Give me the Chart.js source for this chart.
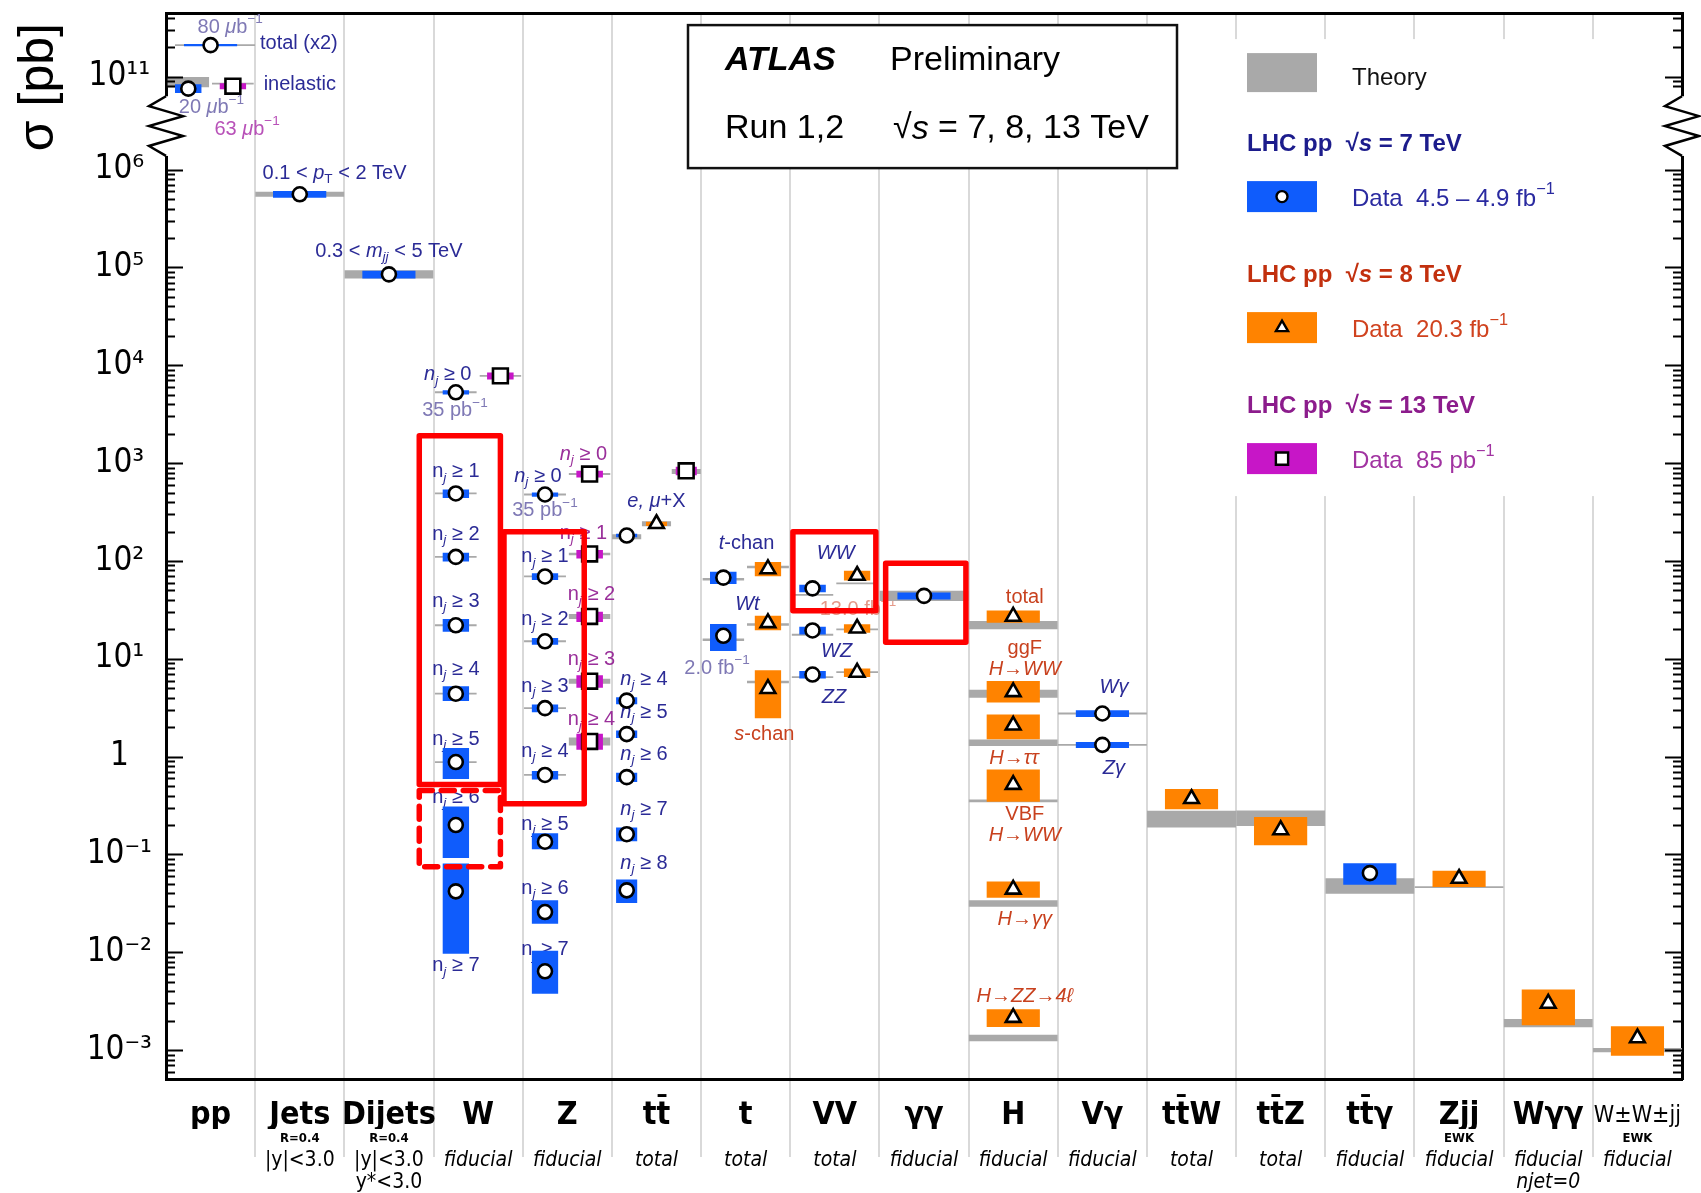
<!DOCTYPE html>
<html>
<head>
<meta charset="utf-8">
<title>ATLAS cross-section summary</title>
<script src="https://cdn.jsdelivr.net/npm/chart.js@4.4.1/dist/chart.umd.min.js"></script>
<style>
  html, body { margin: 0; padding: 0; background: #fff; }
  canvas { display: block; }
</style>
</head>
<body>
<canvas id="xsec" width="1701" height="1193"></canvas>
<script>
// Columns along x, and the small lines printed under them
const categories = ['pp', 'Jets', 'Dijets', 'W', 'Z', 'tt\u0304', 't', 'VV', '\u03b3\u03b3', 'H', 'V\u03b3',
  'tt\u0304W', 'tt\u0304Z', 'tt\u0304\u03b3', 'Zjj', 'W\u03b3\u03b3', 'W\u00b1W\u00b1jj'];
const subLabels = ['', 'R=0.4', 'R=0.4', '', '', '', '', '', '', '', '', '', '', '', 'EWK', '', 'EWK'];
const notes = ['', '|y|<3.0', ['|y|<3.0', 'y*<3.0'], 'fiducial', 'fiducial', 'total', 'total', 'total',
  'fiducial', 'fiducial', 'fiducial', 'total', 'total', 'fiducial', 'fiducial', ['fiducial', 'njet=0'], 'fiducial'];

// y axis: decades that get a label
const yTickDecades = [-3, -2, -1, 0, 1, 2, 3, 4, 5, 6, 11];
const yTickLabels = ['10\u207b\u00b3', '10\u207b\u00b2', '10\u207b\u00b9', '1', '10\u00b9', '10\u00b2', '10\u00b3',
  '10\u2074', '10\u2075', '10\u2076', '10\u00b9\u00b9'];

// measurements: [column, name, sigma (pb), data rel. up, data rel. down, theory (pb), theory rel. unc.]
const data7 = [
  [0, 'total (x2)', 2.1e11, 0.012, 0.012, 2.1e11, 0.01],
  [0, 'inelastic', 7.55e10, 0.11, 0.10, 8.8e10, 0.13],
  [1, 'jets', 5.6e5, 0.08, 0.08, 5.6e5, 0.06],
  [2, 'dijets', 8.5e4, 0.09, 0.09, 8.5e4, 0.10],
  [3, 'W nj>=0', 5.3e3, 0.05, 0.05, 5.3e3, 0.02],
  [3, 'W nj>=1', 490, 0.10, 0.10, 490, 0.02],
  [3, 'W nj>=2', 110, 0.10, 0.10, 110, 0.02],
  [3, 'W nj>=3', 22, 0.16, 0.14, 22, 0.02],
  [3, 'W nj>=4', 4.4, 0.19, 0.16, 4.4, 0.02],
  [3, 'W nj>=5', 0.88, 0.39, 0.33, 0.88, 0.02],
  [3, 'W nj>=6', 0.20, 0.55, 0.54, null, 0],
  [3, 'W nj>=7', 0.042, 0.93, 0.77, null, 0],
  [4, 'Z nj>=0', 478, 0.05, 0.05, 478, 0.02],
  [4, 'Z nj>=1', 69.5, 0.08, 0.08, 69.5, 0.02],
  [4, 'Z nj>=2', 15.1, 0.08, 0.08, 15.1, 0.02],
  [4, 'Z nj>=3', 3.13, 0.09, 0.09, 3.13, 0.02],
  [4, 'Z nj>=4', 0.65, 0.10, 0.10, 0.65, 0.02],
  [4, 'Z nj>=5', 0.135, 0.22, 0.16, null, 0],
  [4, 'Z nj>=6', 0.0258, 0.32, 0.24, null, 0],
  [4, 'Z nj>=7', 0.0064, 0.62, 0.41, null, 0],
  [5, 'tt total', 182, 0.04, 0.04, 177, 0.06],
  [5, 'tt nj>=4', 3.74, 0.08, 0.08, null, 0],
  [5, 'tt nj>=5', 1.70, 0.09, 0.09, null, 0],
  [5, 'tt nj>=6', 0.617, 0.11, 0.11, null, 0],
  [5, 'tt nj>=7', 0.161, 0.17, 0.15, null, 0],
  [5, 'tt nj>=8', 0.043, 0.29, 0.26, null, 0],
  [6, 't-chan', 67.6, 0.15, 0.14, 65, 0.03],
  [6, 'Wt', 17.2, 0.32, 0.30, 15.7, 0.03],
  [7, 'WW', 52.5, 0.09, 0.09, 45, 0.02],
  [7, 'WZ', 19.5, 0.09, 0.09, 17.6, 0.02],
  [7, 'ZZ', 6.9, 0.09, 0.09, 6.5, 0.02],
  [8, 'gamgam', 44, 0.08, 0.08, 44, 0.13],
  [10, 'Wgam', 2.76, 0.08, 0.08, 2.76, 0.015],
  [10, 'Zgam', 1.32, 0.07, 0.07, 1.32, 0.015],
  [13, 'ttgam', 0.0645, 0.26, 0.24, 0.0475, 0.20]
];
const data8 = [
  [5, 'tt total', 240, 0.05, 0.05, 240, 0.06],
  [6, 't-chan', 82.9, 0.18, 0.16, 87, 0.03],
  [6, 'Wt', 23.3, 0.18, 0.16, 22.4, 0.03],
  [6, 's-chan', 4.95, 0.54, 0.50, 5.8, 0.03],
  [7, 'WW', 71, 0.12, 0.11, 59, 0.02],
  [7, 'WZ', 20.5, 0.10, 0.10, 20, 0.02],
  [7, 'ZZ', 7.25, 0.10, 0.10, 7.3, 0.02],
  [9, 'H total', 27.1, 0.15, 0.14, 22.1, 0.10],
  [9, 'ggF H->WW', 4.59, 0.29, 0.22, 4.4, 0.10],
  [9, 'H->tautau', 2.09, 0.29, 0.28, 1.39, 0.08],
  [9, 'VBF H->WW', 0.517, 0.43, 0.33, 0.353, 0.03],
  [9, 'H->gamgam', 0.044, 0.20, 0.18, 0.0316, 0.08],
  [9, 'H->ZZ->4l', 0.00215, 0.22, 0.20, 0.00133, 0.08],
  [11, 'ttW', 0.371, 0.26, 0.22, 0.23, 0.22],
  [12, 'ttZ', 0.178, 0.36, 0.30, 0.235, 0.20],
  [14, 'Zjj EWK', 0.0568, 0.20, 0.18, 0.0463, 0.02],
  [15, 'Wgamgam', 0.0030, 0.39, 0.40, 0.00189, 0.10],
  [16, 'WWjj EWK', 0.00133, 0.32, 0.34, 0.0010, 0.05]
];
const data13 = [
  [0, 'inelastic', 8.0e10, 0.07, 0.07, 8.5e10, 0.02],
  [3, 'W nj>=0', 7.8e3, 0.08, 0.08, 7.8e3, 0.02],
  [4, 'Z nj>=0', 774, 0.08, 0.08, 774, 0.02],
  [4, 'Z nj>=1', 118, 0.10, 0.10, 118, 0.03],
  [4, 'Z nj>=2', 27.1, 0.12, 0.12, 27.1, 0.06],
  [4, 'Z nj>=3', 5.9, 0.15, 0.14, 5.9, 0.06],
  [4, 'Z nj>=4', 1.43, 0.20, 0.18, 1.43, 0.10],
  [5, 'tt total', 835, 0.10, 0.10, 820, 0.06]
];

// text written next to the measurements: [text, x (column units), sigma (pb), colour]
const annotations = [
  ['80 [\u03bc]b^{\u22121}', 0.72, 3.2e11, 'lumi'],
  ['total (x2)', 1.49, 2.2e11, 'navy'],
  ['inelastic', 1.50, 8.4e10, 'navy'],
  ['20 [\u03bc]b^{\u22121}', 0.51, 4.8e10, 'lumi'],
  ['63 [\u03bc]b^{\u22121}', 0.91, 2.9e10, 'pink'],
  ['0.1 < [p]_{T} < 2 TeV', 1.89, 9.2e5, 'navy'],
  ['0.3 < [m]_{[jj]} < 5 TeV', 2.50, 1.45e5, 'navy'],
  ['[n]_{[j]} \u2265 0', 3.16, 8.0e3, 'navy'],
  ['35 pb^{\u22121}', 3.24, 3.46e3, 'lumi'],
  ['n_{[j]} \u2265 1', 3.25, 815, 'navy'],
  ['n_{[j]} \u2265 2', 3.25, 187, 'navy'],
  ['n_{[j]} \u2265 3', 3.25, 38.7, 'navy'],
  ['n_{[j]} \u2265 4', 3.25, 7.8, 'navy'],
  ['n_{[j]} \u2265 5', 3.25, 1.5, 'navy'],
  ['n_{[j]} \u2265 6', 3.25, 0.381, 'navy'],
  ['n_{[j]} \u2265 7', 3.25, 0.00726, 'navy'],
  ['[n]_{[j]} \u2265 0', 4.17, 736, 'navy'],
  ['35 pb^{\u22121}', 4.25, 327, 'lumi'],
  ['n_{[j]} \u2265 1', 4.25, 110, 'navy'],
  ['n_{[j]} \u2265 2', 4.25, 25, 'navy'],
  ['n_{[j]} \u2265 3', 4.25, 5.2, 'navy'],
  ['n_{[j]} \u2265 4', 4.25, 1.14, 'navy'],
  ['n_{[j]} \u2265 5', 4.25, 0.202, 'navy'],
  ['n_{[j]} \u2265 6', 4.25, 0.045, 'navy'],
  ['n_{[j]} \u2265 7', 4.25, 0.0106, 'navy'],
  ['[n]_{[j]} \u2265 0', 4.68, 1220, 'purple'],
  ['n_{[j]} \u2265 1', 4.68, 191, 'purple'],
  ['n_{[j]} \u2265 2', 4.77, 45, 'purple'],
  ['n_{[j]} \u2265 3', 4.77, 9.8, 'purple'],
  ['n_{[j]} \u2265 4', 4.77, 2.37, 'purple'],
  ['[e, \u03bc]+X', 5.50, 410, 'navy'],
  ['[n]_{[j]} \u2265 4', 5.36, 6.2, 'navy'],
  ['[n]_{[j]} \u2265 5', 5.36, 2.83, 'navy'],
  ['[n]_{[j]} \u2265 6', 5.36, 1.05, 'navy'],
  ['[n]_{[j]} \u2265 7', 5.36, 0.288, 'navy'],
  ['[n]_{[j]} \u2265 8', 5.36, 0.081, 'navy'],
  ['[t]-chan', 6.51, 152, 'navy'],
  ['[Wt]', 6.52, 35.9, 'navy'],
  ['2.0 fb^{\u22121}', 6.18, 8.0, 'lumi'],
  ['[s]-chan', 6.71, 1.7, 'red'],
  ['[WW]', 7.51, 118, 'navy'],
  ['13.0 fb^{\u22121}', 7.76, 31.6, 'faded'],
  ['[WZ]', 7.52, 12, 'navy'],
  ['[ZZ]', 7.49, 4.04, 'navy'],
  ['total', 9.63, 42.8, 'red'],
  ['ggF', 9.63, 12.6, 'red'],
  ['[H\u2192WW]', 9.63, 7.8, 'red'],
  ['[H\u2192\u03c4\u03c4]', 9.51, 0.95, 'red'],
  ['VBF', 9.63, 0.254, 'red'],
  ['[H\u2192WW]', 9.63, 0.157, 'red'],
  ['[H\u2192\u03b3\u03b3]', 9.63, 0.0216, 'red'],
  ['[H\u2192ZZ\u21924\u2113]', 9.63, 0.00357, 'red'],
  ['[W\u03b3]', 10.63, 5.08, 'navy'],
  ['[Z\u03b3]', 10.63, 0.756, 'navy']
];

// red highlight frames: [x from, x to (column units), sigma top, sigma bottom (pb), dashed]
const highlights = [
  [2.84, 3.75, 1.9e3, 0.52, false],
  [2.84, 3.75, 0.45, 0.075, true],
  [3.79, 4.69, 199, 0.33, false],
  [7.03, 7.96, 199, 31, false],
  [8.07, 8.97, 95, 14.8, false]
];

// ---- styling ----
const SANS = "'Liberation Sans', Arimo, Arial, sans-serif";
const NARROW = "'Liberation Sans Narrow', 'DejaVu Sans Condensed', 'Liberation Sans', sans-serif";
const TICKF = "'DejaVu Sans Condensed', 'DejaVu Sans', sans-serif";
const TXT = { navy: '#2b2b96', lumi: '#7f79b5', purple: '#9a2f9a', pink: '#b851b8', red: '#c8411e', faded: 'rgba(205,70,40,0.55)' };
const BAND = { 7: '#0f5cfc', 8: '#ff8300', 13: '#c716c7' };
const MARK = { 7: 'circle', 8: 'triangle', 13: 'rect' };
const MARK_R = { 7: 7, 8: 8.5, 13: 10.5 };
const THEORY = '#a9a9a9';
const GRID = '#d9d9d9';

// broken log axis: decades above 10^6 are shifted so 10^11 sits just above 10^6
const GAP = 0.95;
function tyLog(lg) { return lg <= 6 ? lg : lg - 5 + GAP; }
function ty(v) { return tyLog(Math.log10(v)); }

const rows = [
  ...data7.map(r => [7, ...r]),
  ...data8.map(r => [8, ...r]),
  ...data13.map(r => [13, ...r])
];
const present = {};
rows.forEach(([e, col]) => { (present[col] = present[col] || new Set()).add(e); });

function layoutOf(e, col, name) {
  if (name === 'total (x2)') return { c: 0.5, dw: 0.3, tl: 0.1, tr: 1.0 };
  const es = [...present[col]].sort((a, b) => a - b);
  const n = es.length, i = es.indexOf(e);
  const c = (i + 0.5) / n;
  const dw = n === 1 ? 0.3 : n === 2 ? 0.15 : 0.12;
  const tw = n === 1 ? 0.5 : n === 2 ? 0.235 : 0.165;
  return { c, dw, tl: c - tw, tr: c + tw };
}

function band(x1, x2, lo, hi, color, order) {
  return {
    type: 'line', data: [{ x: x1, y: hi }, { x: x2, y: hi }],
    fill: { value: lo }, backgroundColor: color, borderColor: 'rgba(0,0,0,0)', borderWidth: 0,
    pointRadius: 0, tension: 0, order
  };
}

const datasets = [];
const markers = { 7: [], 8: [], 13: [] };
rows.forEach(([e, col, name, v, up, dn, th, thErr]) => {
  const L = layoutOf(e, col, name);
  if (th) {
    const h = Math.max(Math.log10(1 + thErr), 0.0095);
    const t = ty(th);
    datasets.push(band(col + L.tl, col + L.tr, t - h, t + h, THEORY, 4));
  }
  const t = ty(v);
  const hu = Math.max(Math.log10(1 + up), 0.012);
  const hd = Math.max(-Math.log10(1 - dn), 0.012);
  datasets.push(band(col + L.c - L.dw, col + L.c + L.dw, t - hd, t + hu, BAND[e], 3));
  markers[e].push({ x: col + L.c, y: t });
});
[7, 8, 13].forEach(e => {
  datasets.push({
    type: 'scatter', data: markers[e], pointStyle: MARK[e], pointRadius: MARK_R[e],
    pointBackgroundColor: '#fff', pointBorderColor: '#000', pointBorderWidth: 2.6, order: 1
  });
});
highlights.forEach(([x1, x2, top, bot, dashed]) => {
  const yt = ty(top), yb = ty(bot);
  datasets.push({
    type: 'line',
    data: [{ x: x1, y: yt }, { x: x2, y: yt }, { x: x2, y: yb }, { x: x1, y: yb }, { x: x1, y: yt }],
    borderColor: '#ff0000', borderWidth: 5.5, borderDash: dashed ? [13, 9] : [],
    borderJoinStyle: 'round', borderCapStyle: 'round', pointRadius: 0, fill: false, tension: 0, order: 0
  });
});

// small rich-text helper: _{sub}, ^{sup}, [italic]
function richSegments(s) {
  const segs = [];
  s.split(/(_\{[^}]*\}|\^\{[^}]*\})/).forEach(p => {
    if (!p) return;
    let shift = 0, body = p;
    if (p.startsWith('_{')) { shift = 1; body = p.slice(2, -1); }
    else if (p.startsWith('^{')) { shift = -1; body = p.slice(2, -1); }
    body.split(/(\[[^\]]*\])/).forEach(q => {
      if (!q) return;
      const it = q.startsWith('[');
      segs.push({ t: it ? q.slice(1, -1) : q, it, shift });
    });
  });
  return segs;
}
function drawRich(ctx, s, x, y, size, color, align, weight) {
  const segs = richSegments(s);
  const fontOf = sg => (sg.it ? 'italic ' : '') + (weight || 'normal') + ' ' + (sg.shift ? size * 0.68 : size) + 'px ' + SANS;
  let w = 0;
  segs.forEach(sg => { ctx.font = fontOf(sg); sg.w = ctx.measureText(sg.t).width; w += sg.w; });
  let cx = align === 'left' ? x : x - w / 2;
  ctx.fillStyle = color;
  ctx.textBaseline = 'middle';
  ctx.textAlign = 'left';
  segs.forEach(sg => {
    ctx.font = fontOf(sg);
    const dy = sg.shift > 0 ? size * 0.3 : sg.shift < 0 ? -size * 0.38 : 0;
    ctx.fillText(sg.t, cx, y + dy);
    cx += sg.w;
  });
}
function drawMarker(ctx, style, x, y, r) {
  ctx.beginPath();
  if (style === 'circle') ctx.arc(x, y, r, 0, Math.PI * 2);
  else if (style === 'triangle') {
    for (let k = 0; k < 3; k++) {
      const a = k * 2 * Math.PI / 3;
      ctx[k ? 'lineTo' : 'moveTo'](x + Math.sin(a) * r, y - Math.cos(a) * r);
    }
    ctx.closePath();
  } else ctx.rect(x - r * 0.72, y - r * 0.72, r * 1.44, r * 1.44);
  ctx.fillStyle = '#fff';
  ctx.fill();
  ctx.lineWidth = 2.4;
  ctx.strokeStyle = '#000';
  ctx.stroke();
}

const decor = {
  id: 'decor',
  beforeDatasetsDraw(chart) {
    const { ctx, chartArea: ca, scales: { x, y } } = chart;
    ctx.save();
    // ATLAS box
    const bx = ca.left + 522, by = ca.top + 12;
    ctx.fillStyle = '#fff';
    ctx.fillRect(bx, by, 489, 143);
    ctx.lineWidth = 2.5;
    ctx.strokeStyle = '#111';
    ctx.strokeRect(bx, by, 489, 143);
    drawRich(ctx, '[ATLAS]', bx + 37, by + 36, 34, '#000', 'left', 'bold');
    drawRich(ctx, 'Preliminary', bx + 202, by + 36, 34, '#000', 'left');
    drawRich(ctx, 'Run 1,2', bx + 37, by + 104, 34, '#000', 'left');
    drawRich(ctx, '\u221a[s] = 7, 8, 13 TeV', bx + 205, by + 104, 34, '#000', 'left');

    // legend
    const lx = ca.left + 1030, ly = ca.top;
    ctx.fillStyle = '#fff';
    ctx.fillRect(lx, ly + 26, ca.right - lx - 2, 457);
    const boxX = ca.left + 1081, txtX = ca.left + 1186;
    ctx.fillStyle = THEORY;
    ctx.fillRect(boxX, ly + 40, 70, 39);
    drawRich(ctx, 'Theory', txtX, ly + 65, 24, '#111', 'left');
    const entries = [
      [7, 'LHC pp  \u221a[s] = 7 TeV', 'Data  4.5 \u2013 4.9 fb^{\u22121}', '#1c1c8c', '#2a2aa0', 131],
      [8, 'LHC pp  \u221a[s] = 8 TeV', 'Data  20.3 fb^{\u22121}', '#c2300e', '#d0421e', 262],
      [13, 'LHC pp  \u221a[s] = 13 TeV', 'Data  85 pb^{\u22121}', '#8c1c8c', '#a133a1', 393]
    ];
    entries.forEach(([e, head, txt, hc, tc, yy]) => {
      drawRich(ctx, head, boxX, ly + yy, 24, hc, 'left', 'bold');
      ctx.fillStyle = BAND[e];
      ctx.fillRect(boxX, ly + yy + 37, 70, 31);
      drawMarker(ctx, MARK[e], boxX + 35, ly + yy + 52.5, e === 7 ? 5.5 : e === 8 ? 7 : 8.5);
      drawRich(ctx, txt, txtX, ly + yy + 55, 24, tc, 'left');
    });

    // labels next to the measurements
    annotations.forEach(([text, xc, v, c]) => {
      drawRich(ctx, text, x.getPixelForValue(xc), y.getPixelForValue(ty(v)), 20, TXT[c], 'center');
    });
    ctx.restore();
  },
  afterDraw(chart) {
    const { ctx, chartArea: ca, scales: { y } } = chart;
    ctx.save();
    // inward ticks on both sides
    ctx.strokeStyle = '#000';
    ctx.lineWidth = 2;
    ctx.beginPath();
    for (let d = -4; d <= 11; d++) {
      for (let k = 1; k <= 9; k++) {
        const lg = d + Math.log10(k);
        if (lg > 6.0001 && lg < 10.85) continue;
        const t = tyLog(lg);
        if (t < y.min || t > y.max) continue;
        const py = Math.round(y.getPixelForValue(t)) + 0.5;
        const len = k === 1 ? 17 : 9;
        ctx.moveTo(ca.left, py); ctx.lineTo(ca.left + len, py);
        ctx.moveTo(ca.right - len, py); ctx.lineTo(ca.right, py);
      }
    }
    ctx.stroke();
    // axis breaks
    const yA = y.getPixelForValue(6.75), yB = y.getPixelForValue(6.14);
    const step = (yB - yA) / 6;
    [ca.left, ca.right].forEach(X => {
      ctx.fillStyle = '#fff';
      ctx.fillRect(X - 3, yA, 6, yB - yA);
      ctx.beginPath();
      ctx.moveTo(X, yA);
      for (let k = 1; k < 6; k++) ctx.lineTo(X + (k % 2 ? -17 : 17), yA + k * step);
      ctx.lineTo(X, yB);
      ctx.lineWidth = 2.5;
      ctx.lineJoin = 'miter';
      ctx.stroke();
    });
    ctx.restore();
  }
};

const halfTicks = s => { s.ticks = categories.map((c, i) => ({ value: i + 0.5 })); };
const gridCol = ctx => {
  const v = ctx.tick ? ctx.tick.value : -1;
  return Number.isInteger(v) && v > 0 && v < categories.length ? GRID : 'rgba(0,0,0,0)';
};

new Chart(document.getElementById('xsec'), {
  type: 'scatter',
  data: { datasets },
  options: {
    responsive: false,
    animation: false,
    devicePixelRatio: 1,
    events: [],
    layout: { padding: 0 },
    plugins: { legend: { display: false }, tooltip: { enabled: false } },
    scales: {
      x: {
        type: 'linear', position: 'bottom', min: 0, max: categories.length, weight: 0,
        afterBuildTicks: s => {
          const t = [];
          for (let k = 0; k <= categories.length; k++) {
            t.push({ value: k });
            if (k < categories.length) t.push({ value: k + 0.5 });
          }
          s.ticks = t;
        },
        afterFit: s => { s.height = 50; s.paddingLeft = 0; s.paddingRight = 0; },
        grid: { color: gridCol, lineWidth: 2, tickLength: 78, tickColor: gridCol, tickWidth: 2 },
        border: { display: true, color: '#000', width: 3 },
        ticks: {
          autoSkip: false, maxRotation: 0, minRotation: 0, padding: -60, color: '#000',
          font: ctx => {
            const last = ctx.tick && ctx.tick.value > categories.length - 1;
            return { family: NARROW, size: last ? 23 : 32, weight: last ? 'normal' : 'bold', lineHeight: '38px' };
          },
          callback: v => Number.isInteger(v) ? '' : categories[Math.floor(v)]
        }
      },
      xs: {
        type: 'linear', position: 'bottom', min: 0, max: categories.length, weight: 1,
        afterBuildTicks: halfTicks,
        afterFit: s => { s.height = 17; s.paddingLeft = 0; s.paddingRight = 0; },
        grid: { display: false, drawTicks: false },
        border: { display: false },
        ticks: {
          autoSkip: false, maxRotation: 0, minRotation: 0, padding: 2, color: '#000',
          font: { family: NARROW, size: 13, weight: 'bold', lineHeight: 1.2 },
          callback: v => subLabels[Math.floor(v)]
        }
      },
      xn: {
        type: 'linear', position: 'bottom', min: 0, max: categories.length, weight: 2,
        afterBuildTicks: halfTicks,
        afterFit: s => { s.height = 47; s.paddingLeft = 0; s.paddingRight = 0; },
        grid: { display: false, drawTicks: false },
        border: { display: false },
        ticks: {
          autoSkip: false, maxRotation: 0, minRotation: 0, padding: 4, color: '#000',
          font: ctx => ({ family: NARROW, size: 21, style: (ctx.index === 1 || ctx.index === 2) ? 'normal' : 'italic', lineHeight: '22px' }),
          callback: v => notes[Math.floor(v)]
        }
      },
      xt: {
        type: 'linear', position: 'top', min: 0, max: categories.length,
        afterFit: s => { s.height = 7; s.paddingLeft = 0; s.paddingRight = 0; },
        grid: { display: false, drawTicks: false },
        border: { display: true, color: '#000', width: 3 },
        ticks: { display: false }
      },
      y: {
        type: 'linear', position: 'left', min: -3.295, max: 7.6,
        afterBuildTicks: s => { s.ticks = yTickDecades.map(d => ({ value: tyLog(d) })); },
        afterFit: s => { s.width = 166; s.paddingTop = 0; s.paddingBottom = 0; },
        grid: { display: false, drawTicks: false },
        border: { display: true, color: '#000', width: 3 },
        ticks: {
          crossAlign: 'center', padding: 14, color: '#000',
          font: { family: TICKF, size: 33 },
          callback: (v, i) => yTickLabels[i]
        },
        title: { display: true, text: '\u03c3 [pb]\u2009', align: 'end', color: '#000',
          font: { family: SANS, size: 50 }, padding: { top: 9, bottom: 0 } }
      },
      y2: {
        type: 'linear', position: 'right', min: -3.295, max: 7.6,
        afterFit: s => { s.width = 19; s.paddingTop = 0; s.paddingBottom = 0; },
        grid: { display: false, drawTicks: false },
        border: { display: true, color: '#000', width: 3 },
        ticks: { display: false }
      }
    }
  },
  plugins: [decor]
});
</script>
</body>
</html>
